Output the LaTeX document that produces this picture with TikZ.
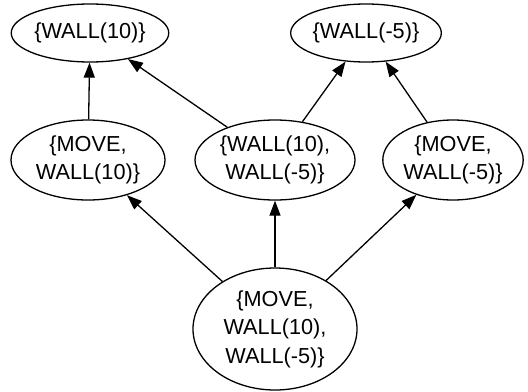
\documentclass[tikz,border=0pt]{standalone}
\usepackage{fontspec}
\setmainfont{Liberation Sans}
\usetikzlibrary{arrows.meta}
\usetikzlibrary{shapes.geometric}
\tikzset{
  x=0.5pt, y=-0.5pt, % pixel-like grid, y grows downwards
  set/.style={ellipse,draw=black,line width=0.65pt,inner sep=0,align=center,
    font=\fontsize{10.85}{14.3}\selectfont},
  set small/.style={set,minimum width=76.5pt,minimum height=29pt},
  set mid/.style={set,minimum width=77pt,minimum height=40pt},
  set big/.style={set,minimum width=82pt,minimum height=61pt},
  connect arrow/.style={-{Triangle[length=7.5pt,width=5.5pt]},line width=0.65pt,black}
}
\begin{document}
\begin{tikzpicture}
  \useasboundingbox (0,0) rectangle (528,391);
  % singletons on top
  \node[set small] (w10) at (90,33) {\{WALL(10)\}};
  \node[set small,minimum width=75pt] (w5) at (366,33) {\{WALL(-5)\}};
  % pairs
  \node[set mid] (mw10) at (88,160) {\{MOVE,\\WALL(10)\}};
  \node[set mid,minimum width=80pt] (w10w5) at (275,160) {\{WALL(10),\\WALL(-5)\}};
  \node[set mid,minimum width=68pt] (mw5) at (453,160) {\{MOVE,\\WALL(-5)\}};
  % full set
  \node[set big] (all) at (275,329) {\{MOVE,\\WALL(10),\\WALL(-5)\}};

  \draw[connect arrow] (mw10) -- (w10);
  \draw[connect arrow] (w10w5) -- (w10);
  \draw[connect arrow] (w10w5) -- (w5);
  \draw[connect arrow] (mw5) -- (w5);
  \draw[connect arrow] (all) -- (mw10);
  \draw[connect arrow] (all) -- (w10w5);
  \draw[connect arrow] (all) -- (mw5);
\end{tikzpicture}
\end{document}
